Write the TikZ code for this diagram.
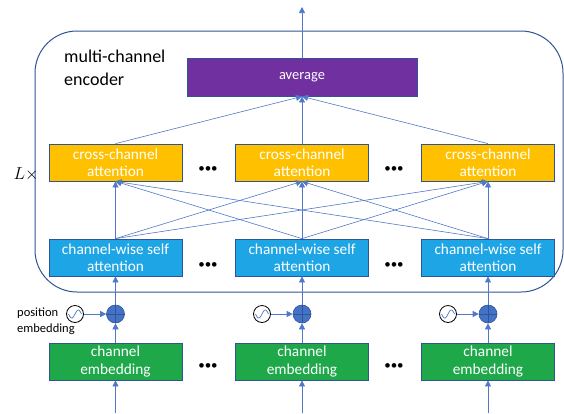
\documentclass[tikz,border=0pt]{standalone}
\usepackage{fontspec}
\setmainfont{Carlito}
\usetikzlibrary{arrows.meta}
\definecolor{lineblue}{RGB}{80,120,200}
\definecolor{edgeblue}{RGB}{47,85,151}
\definecolor{avgpurple}{RGB}{112,48,160}
\definecolor{crossorange}{RGB}{255,192,0}
\definecolor{cwblue}{RGB}{30,165,230}
\definecolor{embgreen}{RGB}{30,168,74}
\definecolor{plusblue}{RGB}{68,114,196}
\tikzset{
  boxstyle/.style={draw=edgeblue, line width=0.8pt, minimum width=133pt, minimum height=37pt,
    inner sep=0pt, align=center, text=white, font=\fontsize{15.3}{17.5}\selectfont},
  crossbox/.style={boxstyle, fill=crossorange},
  cwbox/.style={boxstyle, fill=cwblue},
  embbox/.style={boxstyle, fill=embgreen},
  conn/.style={draw=lineblue, line width=0.6pt, -{Triangle[length=6pt,width=6pt]}},
  plusnode/.style={circle, fill=plusblue, draw=edgeblue, line width=0.6pt, minimum size=18pt, inner sep=0pt},
  sinenode/.style={circle, draw=black, line width=0.8pt, fill=white, minimum size=17pt, inner sep=0pt},
  dotsstyle/.style={font=\fontsize{13}{13}\selectfont, inner sep=0pt}
}
\begin{document}
\begin{tikzpicture}[x=1pt,y=-1pt]
\useasboundingbox (0,0) rectangle (564,413);
% encoder frame
\draw[edgeblue, line width=1pt, rounded corners=42pt] (35,31) rectangle (563,292);
\node[anchor=west, align=left, font=\fontsize{18}{23}\selectfont, inner sep=0pt] (enc) at (64,68) {multi-channel\\encoder};
\node[font=\fontsize{16}{16}\selectfont, inner sep=0pt] (lx) at (26,174) {$L\times$};
% average
\node[boxstyle, fill=avgpurple, minimum width=230pt, minimum height=38pt, font=\fontsize{14.5}{16}\selectfont] (avg) at (302,77) {average};
\coordinate (out) at (302,7);
\draw[conn] (avg.north) -- (out);
% boxes
\foreach \i/\x in {1/115.5,2/302,3/488}{
  \node[crossbox] (c\i) at (\x,162.5) {cross-channel\\attention};
  \node[cwbox] (w\i) at (\x,257.5) {channel-wise self\\attention};
  \node[plusnode] (p\i) at (\x,314) {};
  \node[embbox] (e\i) at (\x,361.5) {channel\\embedding};
  \coordinate (in\i) at (\x,413);
}
\foreach \i in {1,2,3}{
  \draw[edgeblue, line width=0.5pt] (p\i.north) -- (p\i.south) (p\i.west) -- (p\i.east);
  \draw[conn] (in\i) -- (e\i.south);
  \draw[conn] (e\i.north) -- (p\i.south);
  \draw[conn] (p\i.north) -- (w\i.south);
  \draw[conn] (c\i.north) -- (avg.south);
  \foreach \j in {1,2,3}{
    \draw[conn] (w\i.north) -- (c\j.south);
  }
}
% sine sources
\foreach \i/\x in {1/75,2/262,3/448}{
  \node[sinenode] (s\i) at (\x,314) {};
  \draw[lineblue, line width=0.7pt, shift={(s\i.center)}] plot[domain=-6.5:6.5, samples=30, smooth] (\x, {-4*sin(\x*27.7)});
  \draw[conn] (s\i.east) -- (p\i.west);
}
\node[anchor=north west, align=left, inner sep=0pt, font=\fontsize{12.5}{16}\selectfont] (pos) at (17,308) {position\\embedding};
% dots
\foreach \x in {208,394}{
  \node[dotsstyle] at (\x,170) {•••};
  \node[dotsstyle] at (\x,266) {•••};
  \node[dotsstyle] at (\x,367) {•••};
}
\end{tikzpicture}
\end{document}
